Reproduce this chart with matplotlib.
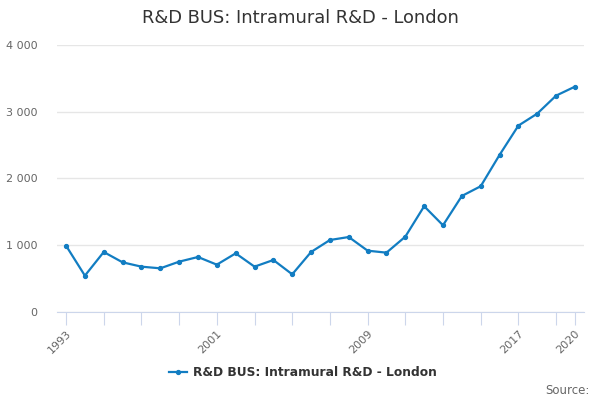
import matplotlib.pyplot as plt
from matplotlib.ticker import FuncFormatter

years = list(range(1993, 2021))
values = [988, 538, 893, 738, 673, 648, 748, 818, 703, 873, 673, 773, 558,
          893, 1073, 1118, 913, 883, 1123, 1580, 1294, 1734, 1880, 2350,
          2790, 2970, 3240, 3375]
series_name = 'R&D BUS: Intramural R&D - London'
tick_years = list(range(1993, 2020, 2)) + [2020]
label_years = [1993, 2001, 2009, 2017, 2020]

fig = plt.figure(figsize=(6, 4), dpi=100)
ax = fig.add_axes([0.095, 0.22125, 0.8783, 0.66625])

line_color = '#127dc2'
ax.plot(years, values, color=line_color, linewidth=1.6, marker='o',
        markersize=2.8, label=series_name, zorder=3)

ax.set_xlim(1992.52, 2020.48)
ax.set_ylim(0, 4000)
ax.set_yticks([0, 1000, 2000, 3000, 4000])
ax.yaxis.set_major_formatter(FuncFormatter(lambda v, p: f'{int(v):,}'.replace(',', ' ')))
ax.grid(axis='y', color='#e6e6e6', linewidth=1)
ax.set_axisbelow(True)

ax.set_xticks(tick_years)
ax.set_xticklabels([str(y) if y in label_years else '' for y in tick_years],
                   rotation=45, ha='right', rotation_mode='anchor')

for s in ['top', 'right', 'left']:
    ax.spines[s].set_visible(False)
ax.spines['bottom'].set_color('#ccd6eb')
ax.tick_params(axis='x', length=9, color='#ccd6eb', labelsize=8,
               labelcolor='#666666', pad=3)
ax.tick_params(axis='y', length=0, labelsize=8, labelcolor='#666666', pad=14)

fig.text(0.5, 0.955, series_name, ha='center', va='center',
         fontsize=12.9, color='#333333')

leg = fig.legend(loc='center', bbox_to_anchor=(0.505, 0.068), frameon=False,
                 handlelength=1.4, handletextpad=0.5,
                 prop={'weight': 'bold', 'size': 8.8})
for t in leg.get_texts():
    t.set_color('#333333')

fig.text(0.982, 0.025, 'Source:', ha='right', va='center',
         fontsize=8.5, color='#666666')

fig.savefig('out.png', dpi=100, facecolor='white')
